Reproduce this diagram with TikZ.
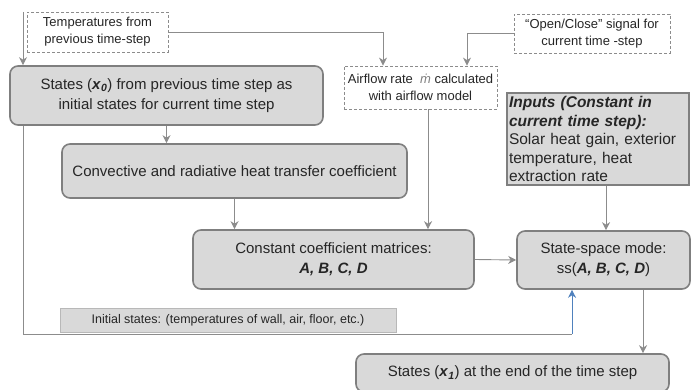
\documentclass[tikz,border=0pt]{standalone}
\usepackage{fontspec}
\setmainfont{Liberation Sans}
\usepackage{amsmath}
\usetikzlibrary{arrows.meta, positioning, calc}
\definecolor{boxfill}{HTML}{D9D9D9}
\definecolor{boxline}{HTML}{7F7F7F}
\definecolor{linkgray}{HTML}{8C8C8C}
\definecolor{feedblue}{HTML}{4F81BD}
\definecolor{txtdark}{HTML}{262626}

\newcommand{\statevec}[2]{\textbf{\textit{#1}}\textsubscript{\textbf{\textit{#2}}}}

\begin{document}
\begin{tikzpicture}[x=1pt, y=-1pt,
    stepbox/.style={rectangle, rounded corners=8pt, draw=boxline, line width=1.6pt, fill=boxfill, text=txtdark, align=center, font=\fontsize{15}{20}\selectfont, inner sep=2pt},
    dashbox/.style={rectangle, draw=linkgray, dash pattern=on 3pt off 2pt, line width=0.8pt, fill=white, text=txtdark, align=center, font=\fontsize{13}{17}\selectfont, inner sep=1pt},
    inbox/.style={rectangle, draw=boxline, line width=2.2pt, fill=boxfill, text=txtdark, align=left, text width=178pt, font=\fontsize{15.5}{18.5}\selectfont, inner sep=2pt},
    notebox/.style={rectangle, draw=boxfill!85!black, line width=0.6pt, fill=boxfill, text=txtdark, font=\fontsize{12.5}{14}\selectfont},
    link/.style={draw=linkgray, line width=0.9pt, -{Stealth[length=8pt, width=8pt, inset=2.5pt]}},
]
\useasboundingbox (0,0) rectangle (692,390);

\node[dashbox, minimum width=141pt, minimum height=40pt] (temps) at (97.5,32) {Temperatures from\\previous time-step};
\node[stepbox, minimum width=313pt, minimum height=59pt] (prev) at (166.5,95.5) {States (\statevec{x}{0}) from previous time step as\\initial states for current time step};
\node[dashbox, minimum width=153pt, minimum height=43pt] (airflow) at (420.5,87.5) {Airflow rate \ {\color{gray}\textit{ṁ}} calculated\\with airflow model};
\node[dashbox, minimum width=156pt, minimum height=39pt] (signal) at (592,33.5) {“Open/Close” signal for\\current time -step};
\node[inbox, minimum height=92pt] (inputs) at (598,139) {\textbf{\textit{Inputs (Constant in}}\\\textbf{\textit{current time step):}}\\Solar heat gain, exterior\\temperature, heat\\extraction rate};

\node[stepbox, minimum width=345pt, minimum height=54pt] (coeff) at (234.5,171) {Convective and radiative heat transfer coefficient};
\node[stepbox, minimum width=281pt, minimum height=59pt] (matrices) at (333.5,259.5) {Constant coefficient matrices:\\\textbf{\textit{A, B, C, D}}};
\node[stepbox, minimum width=173pt, minimum height=58pt] (ssmodel) at (603.5,260) {State-space mode:\\ss(\textbf{\textit{A, B, C, D}})};
\node[stepbox, minimum width=313pt, minimum height=38pt] (next) at (512.5,373) {States (\statevec{x}{1}) at the end of the time step};
\node[notebox, minimum width=336pt, minimum height=24pt] (initnote) at (228,320) {Initial states: (temperatures of wall, air, floor, etc.)};

\coordinate (topin) at (23,12);
\coordinate (fbk) at (572,334);

% inputs into the first step
\draw[link] (topin) -- (topin |- prev.north);
\draw[link] (temps.east) -| ([xshift=-37.5pt]airflow.north);
\draw[link] (signal.west) -| ([xshift=46.5pt]airflow.north);

% main chain
\draw[link] (prev.south) -- (prev.south |- coeff.north);
\draw[link] (coeff.south) -- (coeff.south |- matrices.north);
\draw[link] ([xshift=7.5pt]airflow.south) -- ([xshift=7.5pt]airflow.south |- matrices.north);
\draw[link] ([xshift=8pt]inputs.south) -- ([xshift=8pt]inputs.south |- ssmodel.north);
\draw[link] (matrices.east) -- (ssmodel.west);
\draw[link] ([xshift=39.5pt]ssmodel.south) -- ([xshift=39.5pt]ssmodel.south |- next.north);

% initial states fed back
\draw[linkgray, line width=0.9pt] (topin |- prev.south) |- (fbk);
\draw[link, draw=feedblue] (fbk) -- (fbk |- ssmodel.south);

\end{tikzpicture}
\end{document}
